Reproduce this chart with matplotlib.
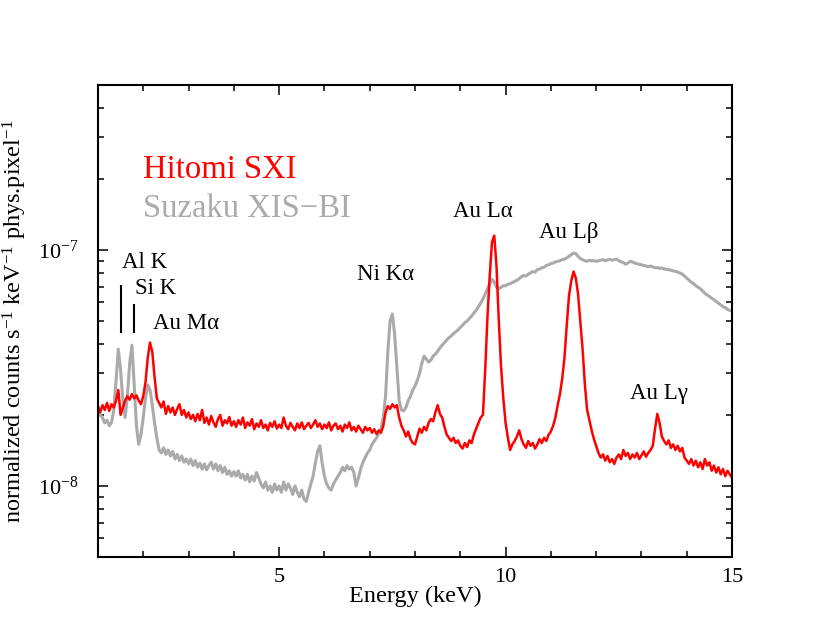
import numpy as np
import matplotlib
matplotlib.use("Agg")
import matplotlib.pyplot as plt
from matplotlib.ticker import MultipleLocator, LogLocator, NullFormatter

plt.rcParams['font.family'] = ['Liberation Serif', 'DejaVu Serif']
plt.rcParams['mathtext.fontset'] = 'custom'
plt.rcParams['mathtext.rm'] = 'Liberation Serif'
plt.rcParams['mathtext.it'] = 'Liberation Serif:italic'
plt.rcParams['mathtext.bf'] = 'Liberation Serif:bold'

# energy bins (keV), 0.05 keV wide, 1-15 keV
energy = np.linspace(1.0, 15.0, 281)

# spectra in units of 1e-8 counts/s/keV/pixel, one row per keV
hitomi = [
    2.18, 2.05, 2.20, 2.10, 2.25, 2.08, 2.22, 2.15, 2.30, 2.55, 2.00, 2.15, 2.30, 2.40, 2.32, 2.45, 2.35, 2.42, 2.30, 2.22,
    2.40, 2.75, 3.50, 4.05, 3.70, 2.90, 2.35, 2.25, 2.15, 2.28, 2.02, 2.18, 2.05, 2.15, 2.00, 2.12, 2.22, 2.00, 2.10, 1.95,
    2.05, 1.92, 2.00, 1.88, 2.02, 1.90, 2.10, 1.85, 1.95, 1.82, 1.98, 1.86, 1.78, 1.92, 2.00, 1.80, 1.90, 1.84, 1.96, 1.80,
    1.88, 1.78, 1.90, 1.82, 1.95, 1.76, 1.86, 1.80, 1.92, 1.74, 1.84, 1.78, 1.90, 1.76, 1.82, 1.72, 1.85, 1.78, 1.88, 1.75,
    1.82, 1.76, 1.95, 1.80, 1.74, 1.85, 1.78, 1.72, 1.84, 1.76, 1.86, 1.74, 1.80, 1.85, 1.76, 1.82, 1.90, 1.78, 1.84, 1.74,
    1.82, 1.76, 1.86, 1.72, 1.80, 1.84, 1.74, 1.80, 1.70, 1.82, 1.76, 1.86, 1.72, 1.78, 1.70, 1.80, 1.74, 1.68, 1.78, 1.72,
    1.76, 1.68, 1.74, 1.66, 1.72, 1.68, 1.80, 2.05, 2.18, 2.12, 2.22, 2.15, 2.20, 1.95, 1.80, 1.72, 1.62, 1.70, 1.58, 1.52,
    1.50, 1.62, 1.75, 1.68, 1.78, 1.72, 1.85, 1.92, 1.88, 2.05, 2.20, 2.02, 1.95, 1.78, 1.65, 1.60, 1.55, 1.60, 1.52, 1.56,
    1.48, 1.44, 1.52, 1.46, 1.56, 1.52, 1.65, 1.75, 1.85, 1.95, 2.00, 3.10, 5.20, 7.80, 10.8, 11.5, 8.50, 5.00, 3.20, 2.35,
    1.85, 1.60, 1.42, 1.50, 1.55, 1.62, 1.72, 1.58, 1.50, 1.45, 1.55, 1.48, 1.52, 1.44, 1.50, 1.58, 1.52, 1.60, 1.55, 1.65,
    1.70, 1.80, 1.95, 2.20, 2.45, 2.85, 3.50, 4.80, 6.40, 7.40, 8.10, 7.60, 6.50, 5.00, 3.80, 2.70, 2.10, 1.90, 1.72, 1.58,
    1.48, 1.38, 1.32, 1.36, 1.28, 1.34, 1.26, 1.30, 1.24, 1.32, 1.36, 1.30, 1.42, 1.34, 1.38, 1.30, 1.36, 1.32, 1.38, 1.30,
    1.35, 1.40, 1.33, 1.38, 1.42, 1.48, 1.75, 2.02, 1.85, 1.62, 1.55, 1.50, 1.56, 1.45, 1.50, 1.42, 1.48, 1.40, 1.45, 1.32,
    1.28, 1.24, 1.30, 1.22, 1.28, 1.20, 1.26, 1.18, 1.30, 1.22, 1.26, 1.16, 1.22, 1.14, 1.20, 1.12, 1.18, 1.10, 1.16, 1.12,
    1.08,
]

suzaku = [
    2.14, 2.00, 1.95, 1.85, 1.90, 1.80, 1.86, 2.10, 2.80, 3.80, 3.10, 2.30, 1.95, 2.40, 3.30, 3.95, 2.70, 1.80, 1.50, 1.65,
    1.95, 2.35, 2.68, 2.55, 2.20, 1.85, 1.60, 1.42, 1.38, 1.45, 1.36, 1.42, 1.34, 1.40, 1.30, 1.36, 1.28, 1.34, 1.26, 1.30,
    1.24, 1.30, 1.22, 1.28, 1.20, 1.25, 1.18, 1.24, 1.17, 1.22, 1.26, 1.18, 1.24, 1.16, 1.22, 1.14, 1.20, 1.12, 1.16, 1.10,
    1.15, 1.10, 1.16, 1.08, 1.12, 1.06, 1.12, 1.04, 1.10, 1.05, 1.14, 1.08, 1.02, 0.98, 1.04, 0.96, 1.00, 0.94, 1.02, 0.96,
    1.00, 0.94, 1.04, 0.96, 1.02, 0.98, 0.92, 1.00, 0.94, 0.90, 0.96, 0.88, 0.86, 0.94, 1.02, 1.10, 1.25, 1.40, 1.48, 1.25,
    1.10, 1.02, 0.98, 0.96, 1.02, 1.06, 1.10, 1.14, 1.20, 1.16, 1.22, 1.18, 1.20, 1.14, 1.00, 1.08, 1.18, 1.26, 1.32, 1.38,
    1.42, 1.50, 1.55, 1.60, 1.66, 1.75, 1.95, 2.40, 3.70, 5.00, 5.35, 4.40, 3.20, 2.30, 2.10, 2.08, 2.15, 2.30, 2.40, 2.55,
    2.65, 2.80, 3.00, 3.30, 3.55, 3.45, 3.35, 3.42, 3.55, 3.62, 3.72, 3.85, 3.95, 4.05, 4.15, 4.25, 4.32, 4.42, 4.50, 4.58,
    4.70, 4.80, 4.92, 5.00, 5.12, 5.25, 5.40, 5.55, 5.75, 5.95, 6.20, 6.50, 6.85, 7.20, 7.50, 7.30, 6.95, 6.85, 6.95, 7.05,
    7.05, 7.15, 7.20, 7.28, 7.35, 7.45, 7.55, 7.70, 7.80, 7.75, 7.90, 8.00, 8.10, 8.05, 8.25, 8.30, 8.40, 8.45, 8.60, 8.65,
    8.75, 8.80, 8.90, 8.95, 9.00, 9.10, 9.15, 9.25, 9.40, 9.55, 9.70, 9.65, 9.40, 9.20, 9.10, 9.00, 8.95, 9.05, 8.98, 9.02,
    8.95, 9.00, 9.05, 9.10, 9.00, 9.08, 9.12, 9.05, 9.10, 9.15, 9.00, 8.90, 8.85, 8.70, 8.80, 8.95, 8.90, 8.80, 8.75, 8.70,
    8.65, 8.60, 8.55, 8.50, 8.55, 8.48, 8.40, 8.42, 8.35, 8.38, 8.30, 8.28, 8.25, 8.20, 8.15, 8.12, 8.05, 7.98, 7.90, 7.75,
    7.60, 7.45, 7.30, 7.20, 7.05, 6.95, 6.85, 6.70, 6.55, 6.45, 6.35, 6.25, 6.15, 6.05, 5.95, 5.85, 5.75, 5.70, 5.60, 5.55,
    5.50,
]

# line identifications: label, energy of left edge, baseline value (x1e-8)
line_labels = ['Al K', 'Si K', 'Au M\u03b1', 'Ni K\u03b1', 'Au L\u03b1', 'Au L\u03b2', 'Au L\u03b3']
label_x = [1.53, 1.82, 2.21, 6.72, 8.84, 10.74, 12.75]
label_y = [8.36, 6.49, 4.64, 7.44, 13.8, 11.2, 2.33]

# marker bars for Al K and Si K
bar_x = [1.50, 1.79]
bar_lo = [4.45, 4.45]
bar_hi = [7.1, 5.9]

scale = 1e-8
red = '#ff0000'
grey = '#aaaaaa'

fig = plt.figure(figsize=(8.3, 6.42), dpi=100)
ax = fig.add_axes([0.118, 0.1324, 0.764, 0.7352])

ax.plot(energy, np.array(suzaku) * scale, color=grey, lw=2.2)
ax.plot(energy, np.array(hitomi) * scale, color=red, lw=1.8)

ax.set_yscale('log')
ax.set_xlim(1, 15)
ax.set_ylim(5e-9, 5e-7)

for lab, x, y in zip(line_labels, label_x, label_y):
    ax.text(x, y * scale, lab, fontsize=16.5, ha='left', va='baseline')
ax.vlines(bar_x, np.array(bar_lo) * scale, np.array(bar_hi) * scale, color='black', lw=1.5)

ax.text(0.071, 0.802, 'Hitomi SXI', color=red, fontsize=23.5, transform=ax.transAxes, va='baseline')
ax.text(0.071, 0.720, 'Suzaku XIS\u2212BI', color=grey, fontsize=23.5, transform=ax.transAxes, va='baseline')

ax.xaxis.set_major_locator(MultipleLocator(5))
ax.xaxis.set_minor_locator(MultipleLocator(1))
ax.yaxis.set_major_locator(LogLocator(base=10, numticks=10))
ax.yaxis.set_minor_locator(LogLocator(base=10, subs=np.arange(2, 10), numticks=10))
ax.yaxis.set_minor_formatter(NullFormatter())

ax.tick_params(which='both', direction='in', top=True, right=True, width=1.1, labelsize=16)
ax.tick_params(which='major', length=7.5)
ax.tick_params(which='minor', length=4.2)
ax.tick_params(axis='x', pad=8)
ax.tick_params(axis='y', pad=14)
for sp in ax.spines.values():
    sp.set_linewidth(1.5)

ax.set_xlabel('Energy (keV)', fontsize=17.5)
ax.set_ylabel(r'normalized counts s$^{-1}$ keV$^{-1}$ phys.pixel$^{-1}$', fontsize=17.5)
ax.xaxis.set_label_coords(0.5, -0.062)
ax.yaxis.set_label_coords(-0.109, 0.5)

fig.savefig('out.png', dpi=100)
